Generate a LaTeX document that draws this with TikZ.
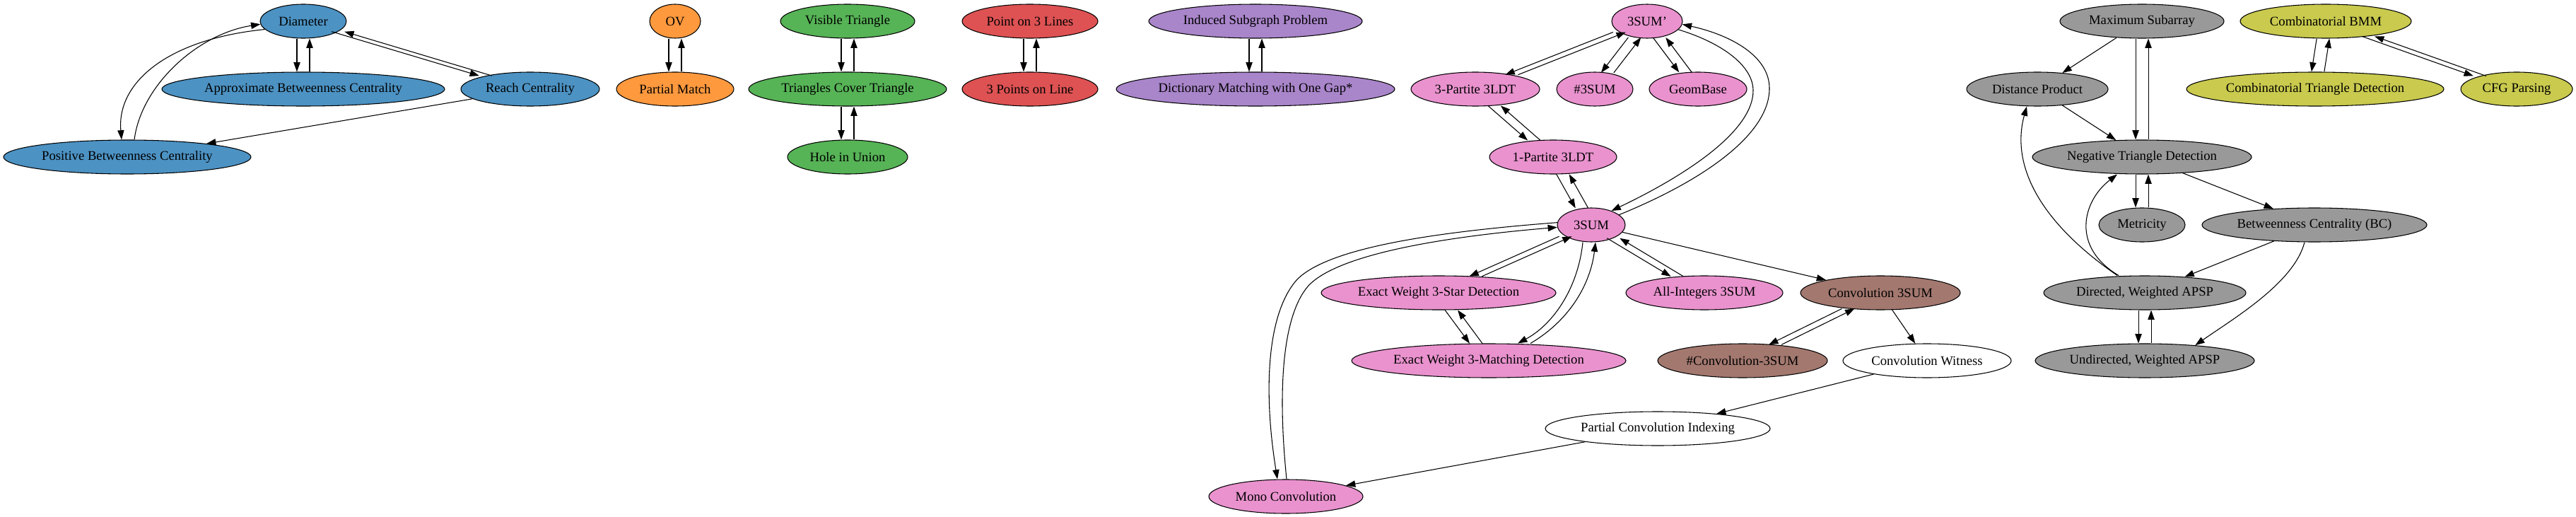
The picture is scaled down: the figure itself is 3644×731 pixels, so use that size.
\documentclass[tikz,border=0pt]{standalone}
\usepackage{fontspec}
\setmainfont{Liberation Serif}
\usetikzlibrary{arrows.meta,shapes.geometric}

\definecolor{blue8}{HTML}{4C92C3}
\definecolor{orange8}{HTML}{FF993E}
\definecolor{green8}{HTML}{56B356}
\definecolor{red8}{HTML}{DE5253}
\definecolor{purple8}{HTML}{A985CA}
\definecolor{brown8}{HTML}{A3786F}
\definecolor{pink8}{HTML}{E992CE}
\definecolor{gray8}{HTML}{999999}
\definecolor{olive8}{HTML}{C9CA4E}

\tikzset{
  prob/.style={ellipse, draw, line width=0.8pt, minimum height=36pt, inner sep=0pt,
    font=\fontsize{14pt}{16pt}\selectfont},
  link/.style={line width=0.8pt, -{Triangle[length=10pt,width=7pt]}},
  offpair/.style={transform canvas={xshift=#1}},
}

\begin{document}
\begin{tikzpicture}[x=0.75pt, y=-0.75pt]
\useasboundingbox (0,0) rectangle (3644,731);

% blue group
\node[prob, fill=blue8, minimum width=91.5pt] (dia) at (429,30) {Diameter};
\node[prob, fill=blue8, minimum width=300pt] (apbc) at (429,126) {Approximate Betweenness Centrality};
\node[prob, fill=blue8, minimum width=147pt] (reach) at (750,126) {Reach Centrality};
\node[prob, fill=blue8, minimum width=262.5pt] (posbc) at (180,222) {Positive Betweenness Centrality};

% orange, green, red, purple groups
\node[prob, fill=orange8, minimum width=54pt] (ov) at (955,30) {OV};
\node[prob, fill=orange8, minimum width=124.5pt] (pmatch) at (955,126) {Partial Match};
\node[prob, fill=green8, minimum width=142.5pt] (vistri) at (1199,30) {Visible Triangle};
\node[prob, fill=green8, minimum width=210pt] (tct) at (1199,126) {Triangles Cover Triangle};
\node[prob, fill=green8, minimum width=127.5pt] (hole) at (1199,222) {Hole in Union};
\node[prob, fill=red8, minimum width=144pt] (ptl) at (1457,30) {Point on 3 Lines};
\node[prob, fill=red8, minimum width=144pt] (pol) at (1457,126) {3 Points on Line};
\node[prob, fill=purple8, minimum width=226.5pt] (isp) at (1776,30) {Induced Subgraph Problem};
\node[prob, fill=purple8, minimum width=295.5pt] (dmog) at (1776,126) {Dictionary Matching with One Gap*};

% pink group
\node[prob, fill=pink8, minimum width=75pt] (tsump) at (2330,30) {3SUM'};
\node[prob, fill=pink8, minimum width=136.5pt] (tpart) at (2087,126) {3-Partite 3LDT};
\node[prob, fill=pink8, minimum width=81pt] (nsum) at (2256,126) {\#3SUM};
\node[prob, fill=pink8, minimum width=103.5pt] (geom) at (2402,126) {GeomBase};
\node[prob, fill=pink8, minimum width=135pt] (opart) at (2197,222) {1-Partite 3LDT};
\node[prob, fill=pink8, minimum width=72pt] (tsum) at (2251,318) {3SUM};
\node[prob, fill=pink8, minimum width=249pt] (star) at (2035,414) {Exact Weight 3-Star Detection};
\node[prob, fill=pink8, minimum width=166.5pt] (allint) at (2411,414) {All-Integers 3SUM};
\node[prob, fill=pink8, minimum width=291pt] (match) at (2106,510) {Exact Weight 3-Matching Detection};
\node[prob, fill=pink8, minimum width=163.5pt] (mono) at (1819,702) {Mono Convolution};
\node[prob, fill=brown8, minimum width=169.5pt] (conv) at (2660,414) {Convolution 3SUM};
\node[prob, fill=brown8, minimum width=180pt] (nconv) at (2465,510) {\#Convolution-3SUM};
\node[prob, fill=white, minimum width=178.5pt] (witness) at (2726,510) {Convolution Witness};
\node[prob, fill=white, minimum width=238.5pt] (pci) at (2345,606) {Partial Convolution Indexing};

% gray group
\node[prob, fill=gray8, minimum width=174pt] (maxsub) at (3030,30) {Maximum Subarray};
\node[prob, fill=gray8, minimum width=150pt] (dprod) at (2882,126) {Distance Product};
\node[prob, fill=gray8, minimum width=232.5pt] (ntd) at (3030,222) {Negative Triangle Detection};
\node[prob, fill=gray8, minimum width=91.5pt] (metr) at (3030,318) {Metricity};
\node[prob, fill=gray8, minimum width=238.5pt] (bc) at (3274,318) {Betweenness Centrality (BC)};
\node[prob, fill=gray8, minimum width=214.5pt] (dapsp) at (3034,414) {Directed, Weighted APSP};
\node[prob, fill=gray8, minimum width=232.5pt] (uapsp) at (3034,510) {Undirected, Weighted APSP};

% olive group
\node[prob, fill=olive8, minimum width=181.5pt] (bmm) at (3290,30) {Combinatorial BMM};
\node[prob, fill=olive8, minimum width=273pt] (ctd) at (3275,126) {Combinatorial Triangle Detection};
\node[prob, fill=olive8, minimum width=118.5pt] (cfg) at (3560,126) {CFG Parsing};

% reductions both ways (upper node first)
\foreach \a/\b in {dia/apbc, dia/reach, ov/pmatch, vistri/tct, tct/hole, ptl/pol, isp/dmog,
    tsump/tpart, tsump/nsum, tsump/geom, tpart/opart, opart/tsum, tsum/star, star/match,
    tsum/allint, conv/nconv, maxsub/ntd, ntd/metr, dapsp/uapsp, bmm/ctd, bmm/cfg} {
  \path[draw, link, offpair=-6.75pt] (\a) -- (\b);
  \path[draw, link, offpair=6.75pt] (\b) -- (\a);
}

% one way
\foreach \a/\b in {reach/posbc, tsum/conv, conv/witness, witness/pci, pci/mono,
    maxsub/dprod, dprod/ntd, ntd/bc, bc/dapsp}
  \path[draw, link] (\a) -- (\b);

% curved ones
\path[draw, link] (dia.192) .. controls (240,55) and (165,115) .. ([xshift=-6pt]posbc.north);
\path[draw, link] ([xshift=7.5pt]posbc.north) .. controls (200,120) and (280,48) .. (dia.184);
\path[draw, link] (tsump.-15) .. controls (2440,62) and (2480,95) .. (2480,128)
  .. controls (2480,190) and (2370,255) .. (tsum.35);
\path[draw, link] (tsum.20) .. controls (2410,255) and (2503,190) .. (2503,125)
  .. controls (2503,80) and (2450,50) .. (tsump.-5);
\path[draw, link] (tsum.176) .. controls (2030,328) and (1880,350) .. (1835,395)
  .. controls (1790,445) and (1788,560) .. ([xshift=-9pt]mono.north);
\path[draw, link] ([xshift=0.75pt]mono.north) .. controls (1808,560) and (1812,450) .. (1850,405)
  .. controls (1890,360) and (2040,335) .. (tsum.184);
\path[draw, link] ([xshift=-9pt]tsum.south) .. controls (2232,410) and (2195,460) .. ([xshift=30.75pt]match.north);
\path[draw, link] ([xshift=44.25pt]match.north) .. controls (2222,452) and (2250,400) .. ([xshift=4.5pt]tsum.south);
\path[draw, link] ([xshift=-29.25pt]dapsp.north) .. controls (2880,310) and (2845,230) .. ([xshift=-11.25pt]dprod.south);
\path[draw, link] ([xshift=-27.75pt]dapsp.north) .. controls (2930,350) and (2945,285) .. ([xshift=-26.25pt]ntd.south);
\path[draw, link] ([xshift=-10.5pt]bc.south) .. controls (3245,400) and (3160,450) .. (uapsp.17);
\end{tikzpicture}
\end{document}
